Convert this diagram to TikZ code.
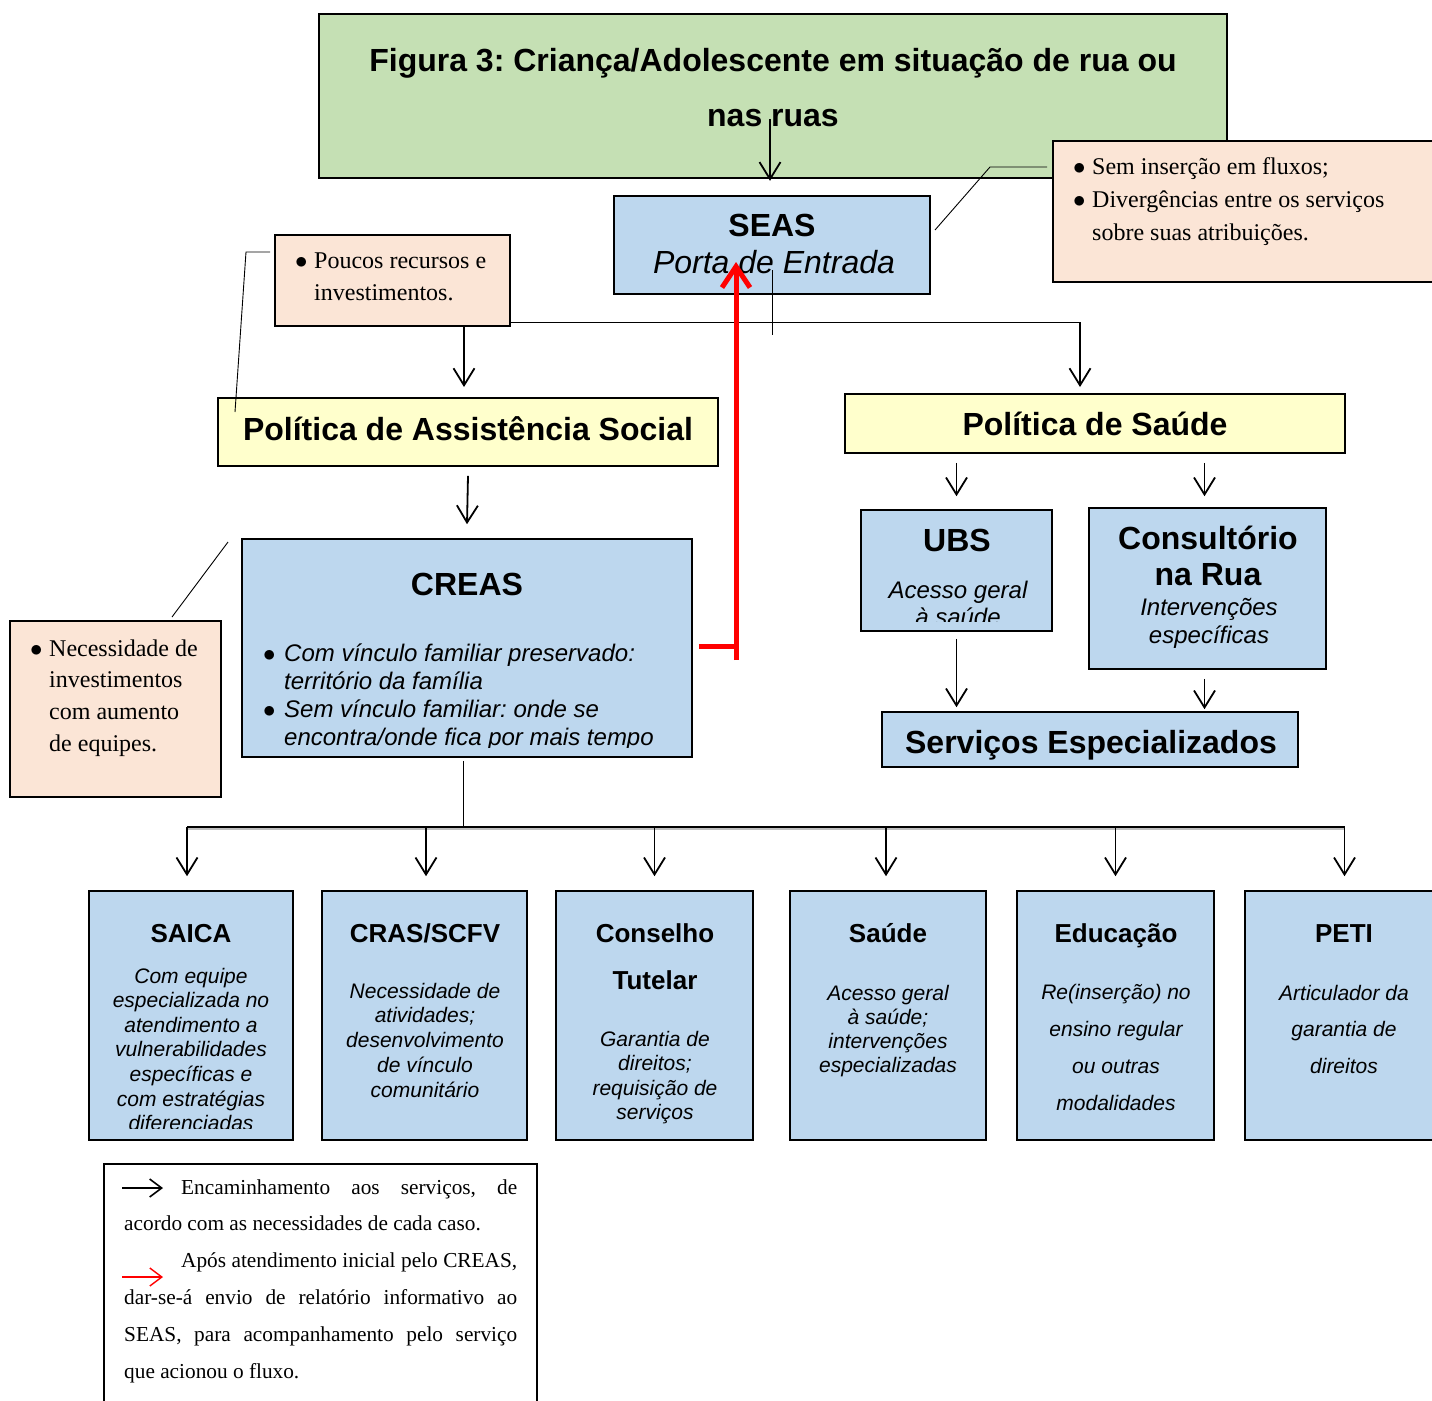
\documentclass[tikz,border=0pt]{standalone}
\usepackage{fontspec}
\setmainfont{Liberation Serif}
\setsansfont{Liberation Sans}
\usetikzlibrary{arrows.meta}
\definecolor{cgreen}{HTML}{C5E0B4}
\definecolor{cblue}{HTML}{BDD7EE}
\definecolor{cyellow}{HTML}{FFFFCC}
\definecolor{cpeach}{HTML}{FBE5D6}
\newcommand\fsz[2]{\fontsize{#1}{#2}\selectfont}
\newcommand\drawbox[6]{\node[#2, minimum width={(#5)-(#3)}, minimum height={(#6)-(#4)}] (#1) at ({((#3)+(#5))/2},{((#4)+(#6))/2}) {};}
\newcommand\bul{\makebox[19pt][l]{$\bullet$}}
\frenchspacing
\tikzset{
  box/.style={draw=black, line width=1.6pt, inner sep=0pt, rectangle},
  greenbox/.style={box, fill=cgreen},
  bluebox/.style={box, fill=cblue},
  yellowbox/.style={box, fill=cyellow},
  peachbox/.style={box, fill=cpeach, line width=1.2pt},
  txt/.style={inner sep=0pt, anchor=base},
  hd/.style={txt, font=\sffamily\bfseries\fsz{32}{36}},
  hdsmall/.style={txt, font=\sffamily\bfseries\fsz{26}{47}},
  arr/.style={-{Straight Barb[length=17pt,width=21pt]}, line width=1.8pt},
  thinline/.style={line width=0.9pt},
  redarr/.style={red, line width=5pt, -{Straight Barb[length=21pt,width=28pt]}},
}
\begin{document}
\frenchspacing
\begin{tikzpicture}[x=1pt,y=-1pt]
\useasboundingbox (0,0) rectangle (1432,1400);

% ---------- title
\drawbox{title}{greenbox}{319}{14}{1227}{178}
\node[txt, font=\sffamily\bfseries\fsz{32}{55}] (titleT) at (773,71)
  {\parbox[t]{900pt}{\centering Figura 3: Criança/Adolescente em situação de rua ou\\nas ruas}};

% ---------- top-right note
\drawbox{noteA}{peachbox}{1053}{141}{1440}{282}
\node[txt, anchor=base west, font=\rmfamily\fsz{24}{33}] (noteAT) at (1073,174)
  {\parbox[t]{360pt}{\raggedright\bul Sem inserção em fluxos;\\\bul Divergências entre os serviços\\\hspace*{19pt}sobre suas atribuições.}};

% ---------- SEAS
\drawbox{seas}{bluebox}{614}{196}{930}{294}
\node[txt, font=\sffamily\bfseries\fsz{32}{36}] (seasT) at (772,236) {SEAS};
\node[txt, font=\sffamily\itshape\fsz{32}{36}] (seasS) at (774,273) {Porta de Entrada};

% ---------- left note
\drawbox{noteB}{peachbox}{275}{235}{510}{326}
\node[txt, anchor=base west, font=\rmfamily\fsz{24}{32}] (noteBT) at (295,268)
  {\parbox[t]{210pt}{\raggedright\bul Poucos recursos e\\\hspace*{19pt}investimentos.}};

% ---------- policies
\drawbox{pas}{yellowbox}{218}{398}{718}{466}
\node[hd] (pasT) at (468,440) {Política de Assistência Social};
\drawbox{ps}{yellowbox}{845}{394}{1345}{453}
\node[hd] (psT) at (1095,435) {Política de Saúde};

% ---------- CREAS
\drawbox{creas}{bluebox}{242}{539}{692}{757}
\node[hd] (creasT) at (467,595) {CREAS};
\begin{scope}
\clip (242,539) rectangle (692,747);
\node[txt, anchor=base west, font=\sffamily\itshape\fsz{24}{28}] (creasB) at (263,661)
  {\parbox[t]{430pt}{\raggedright\makebox[21pt][l]{$\bullet$}Com vínculo familiar preservado:\\\hspace*{21pt}território da família\\\makebox[21pt][l]{$\bullet$}Sem vínculo familiar: onde se\\\hspace*{21pt}encontra/onde fica por mais tempo}};
\end{scope}

% ---------- lower-left note
\drawbox{noteC}{peachbox}{10}{621}{221}{797}
\node[txt, anchor=base west, font=\rmfamily\fsz{24}{31.7}] (noteCT) at (30,656)
  {\parbox[t]{190pt}{\raggedright\bul Necessidade de\\\hspace*{19pt}investimentos\\\hspace*{19pt}com aumento\\\hspace*{19pt}de equipes.}};

% ---------- health side
\drawbox{ubs}{bluebox}{861}{510}{1052}{631}
\node[hd] (ubsT) at (957,551) {UBS};
\begin{scope}
\clip (861,510) rectangle (1052,621);
\node[txt, font=\sffamily\itshape\fsz{24}{27}] (ubsS) at (958,598)
  {\parbox[t]{190pt}{\centering Acesso geral\\à saúde}};
\end{scope}
\drawbox{cons}{bluebox}{1089}{508}{1326}{669}
\node[txt, font=\sffamily\bfseries\fsz{32}{36}] (consT) at (1208,549)
  {\parbox[t]{236pt}{\centering Consultório\\na Rua}};
\node[txt, font=\sffamily\itshape\fsz{24}{28}] (consS) at (1209,615)
  {\parbox[t]{236pt}{\centering Intervenções\\específicas}};
\drawbox{serv}{bluebox}{882}{712}{1298}{767}
\node[hd] (servT) at (1091,753) {Serviços Especializados};

% ---------- bottom boxes
\drawbox{saica}{bluebox}{89}{891}{293}{1140}
\drawbox{cras}{bluebox}{322}{891}{527}{1140}
\drawbox{ct}{bluebox}{556}{891}{753}{1140}
\drawbox{saude}{bluebox}{790}{891}{986}{1140}
\drawbox{edu}{bluebox}{1017}{891}{1214}{1140}
\drawbox{peti}{bluebox}{1245}{891}{1440}{1140}

\node[hdsmall] (saicaT) at (191,942) {SAICA};
\begin{scope}
\clip (89,891) rectangle (293,1128);
\node[txt, font=\sffamily\itshape\fsz{21}{24.6}] (saicaS) at (191,983)
  {\parbox[t]{204pt}{\centering Com equipe\\especializada no\\atendimento a\\vulnerabilidades\\específicas e\\com estratégias\\diferenciadas}};
\end{scope}
\node[hdsmall] (crasT) at (425,942) {CRAS/SCFV};
\node[txt, font=\sffamily\itshape\fsz{21}{24.8}] (crasS) at (425,998)
  {\parbox[t]{204pt}{\centering Necessidade de\\atividades;\\desenvolvimento\\de vínculo\\comunitário}};
\node[hdsmall] (ctT) at (655,942) {\parbox[t]{196pt}{\centering Conselho\\Tutelar}};
\node[txt, font=\sffamily\itshape\fsz{21}{24.5}] (ctS) at (655,1046)
  {\parbox[t]{196pt}{\centering Garantia de\\direitos;\\requisição de\\serviços}};
\node[hdsmall] (saudeT) at (888,942) {Saúde};
\node[txt, font=\sffamily\itshape\fsz{21}{24.3}] (saudeS) at (888,1000)
  {\parbox[t]{196pt}{\centering Acesso geral\\à saúde;\\intervenções\\especializadas}};
\node[hdsmall] (eduT) at (1116,942) {Educação};
\node[txt, font=\sffamily\itshape\fsz{21}{37}] (eduS) at (1116,999)
  {\parbox[t]{196pt}{\centering Re(inserção) no\\ensino regular\\ou outras\\modalidades}};
\node[hdsmall] (petiT) at (1344,942) {PETI};
\node[txt, font=\sffamily\itshape\fsz{21}{36.5}] (petiS) at (1344,1000)
  {\parbox[t]{196pt}{\centering Articulador da\\garantia de\\direitos}};

% ---------- legend
\drawbox{legend}{box, fill=white, line width=1.2pt}{104}{1164}{537}{1420}
\node[txt, anchor=base west, font=\rmfamily\fsz{21.3}{36.8}] (legT) at (124,1194)
  {\parbox[t]{393pt}{\hyphenpenalty=10000\hspace*{57pt}Encaminhamento aos serviços, de\linebreak acordo com as necessidades de cada caso.\par
  \hspace*{57pt}Após atendimento inicial pelo CREAS,\linebreak dar-se-á envio de relatório informativo ao\linebreak SEAS, para acompanhamento pelo serviço\linebreak que acionou o fluxo.}};
\coordinate (lgA1) at (122,1188);
\coordinate (lgA2) at (163,1188);
\coordinate (lgB1) at (122,1277);
\coordinate (lgB2) at (163,1277);
\draw[line width=1.6pt, -{Straight Barb[length=12pt,width=18pt]}] (lgA1) -- (lgA2);
\draw[red, line width=1.4pt, -{Straight Barb[length=12pt,width=18pt]}] (lgB1) -- (lgB2);

% ---------- connectors
% title -> SEAS
\draw[arr] ([xshift=-3pt,yshift=60pt]title.south) -- ([xshift=-3pt,yshift=-2pt]title.south);
% callout of top-right note
\coordinate (cA1) at (1047,167);
\coordinate (cA2) at (990,167);
\coordinate (cA3) at (935,230);
\draw[thinline] (cA1) -- (cA2) -- (cA3);
% callout of left note
\coordinate (cB1) at (270,252);
\coordinate (cB2) at (246,252);
\coordinate (cB3) at (235,412);
\draw[thinline] (cB1) -- (cB2) -- (cB3);
% callout of lower-left note
\coordinate (cC1) at (172,617);
\coordinate (cC2) at (228,542);
\draw[thinline] (cC1) -- (cC2);
% SEAS stub
\coordinate (s1) at (772,270);
\coordinate (s2) at (772,335);
\draw[thinline] (s1) -- (s2);
% note B -> policies
\coordinate (psIn) at (1080,387);
\coordinate (pasIn) at (464,387);
\draw[line width=1.4pt] ([yshift=4pt]noteB.south east) -| ([yshift=20pt]psIn);
\draw[arr] ([yshift=22pt]psIn) -- (psIn);
\draw[arr] (noteB.south -| pasIn) -- (pasIn);
% PAS -> CREAS
\draw[arr] ([yshift=-9pt]pas.south) -- ([yshift=14pt]creas.north);
% health arrows
\draw[arr] ([yshift=-9pt]ubs.north |- ps.south) -- ([yshift=13pt]ubs.north);
\draw[arr] ([xshift=-3pt,yshift=-9pt]cons.north |- ps.south) -- ([xshift=-3pt,yshift=11pt]cons.north);
\draw[arr] ([yshift=-7pt]ubs.south) -- ([yshift=4pt]ubs.south |- serv.north);
\draw[arr] ([xshift=-3pt,yshift=-9pt]cons.south) -- ([xshift=-3pt,yshift=2pt]cons.south |- serv.north);
% CREAS -> bottom services
\coordinate (barY) at (0,827);
\draw[thinline] ([xshift=-4pt,yshift=-3pt]creas.south) -- ([xshift=-4pt]creas.south |- barY);
\draw[line width=1.5pt, gray!50] ([xshift=-4pt,yshift=-2pt]saica.north |- barY) -- ([xshift=2pt,yshift=-2pt]peti.north |- barY);
\draw[line width=1.5pt] ([xshift=-4pt]saica.north |- barY) -- ([xshift=2pt]peti.north |- barY);
\draw[arr] ([xshift=-4pt]saica.north |- barY) -- ([xshift=-4pt,yshift=14pt]saica.north);
\draw[arr] ([xshift=1.5pt]cras.north |- barY) -- ([xshift=1.5pt,yshift=14pt]cras.north);
\draw[arr] (ct.north |- barY) -- ([yshift=14pt]ct.north);
\draw[arr] ([xshift=-2pt]saude.north |- barY) -- ([xshift=-2pt,yshift=14pt]saude.north);
\draw[arr] (edu.north |- barY) -- ([yshift=14pt]edu.north);
\draw[arr] ([xshift=2pt]peti.north |- barY) -- ([xshift=2pt,yshift=14pt]peti.north);
% red return CREAS -> SEAS
\coordinate (redBot) at (736,660);
\draw[red, line width=5pt] ([xshift=6pt,yshift=2pt]creas.east) -- ([xshift=46pt,yshift=2pt]creas.east);
\draw[redarr] (redBot) -- ([xshift=-36pt,yshift=-17pt]seas.center);
\end{tikzpicture}
\end{document}
